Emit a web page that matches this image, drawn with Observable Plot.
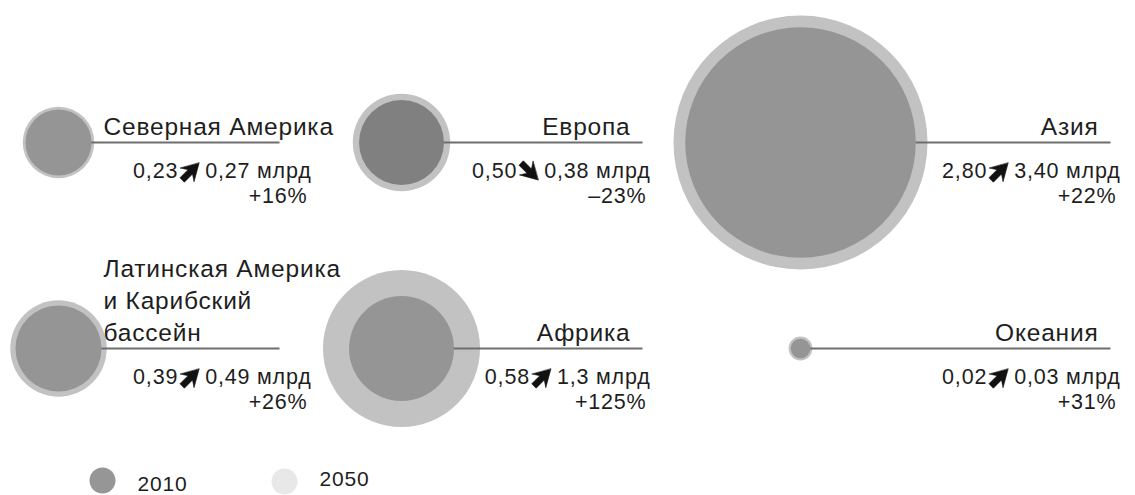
<!DOCTYPE html>
<html>
<head>
<meta charset="utf-8">
<script src="https://cdn.jsdelivr.net/npm/d3@7"></script>
<script src="https://cdn.jsdelivr.net/npm/@observablehq/plot@0.6"></script>
<style>
  html, body { margin: 0; padding: 0; background: #fff; }
  #chart svg { display: block; }
</style>
</head>
<body>
<div id="chart"></div>
<script>
// ---- data ----
const regions = ["Северная Америка", "Европа", "Азия", "Латинская Америка\nи Карибский\nбассейн", "Африка", "Океания"];
const pop2010 = [0.23, 0.50, 2.80, 0.39, 0.58, 0.02];
const pop2050 = [0.27, 0.38, 3.40, 0.49, 1.3, 0.03];
const label2010 = ["0,23", "0,50", "2,80", "0,39", "0,58", "0,02"];
const label2050 = ["0,27", "0,38", "3,40", "0,49", "1,3", "0,03"];
const changeLabels = ["+16%", "–23%", "+22%", "+26%", "+125%", "+31%"];
const years = ["2010", "2050"];

// ---- layout (grid of 2 rows x 3 columns) ----
const W = 1135, H = 495;
const gridRow = [0, 0, 0, 1, 1, 1];
const gridCol = [0, 1, 2, 0, 1, 2];
const colCenter = [58, 401, 800];
const colLineEnd = [279, 642, 1110];
const colTextEnd = [311, 650, 1120];
const rowCenter = [142, 348];

const ringFill = "#c2c2c2";
const innerFill = "#959595";
const declineFill = "#808080";
const ink = "#1e1e1e";
const fontName = "'Liberation Sans', Arial, Helvetica, sans-serif";
const LS = 0.8;             // letter spacing, px
const nameSize = 24.5, valueSize = 21.5, legendSize = 21;

// text width measurement, so the arrow sits between the two numbers
const mctx = document.createElement("canvas").getContext("2d");
function textWidth(s, size) {
  mctx.font = `${size}px 'Liberation Sans', Arial, sans-serif`;
  return mctx.measureText(s).width + LS * s.length;
}

const arrowLen = 24, arrowGapL = 1, arrowGapR = 3, arrowHalf = 11.5;

const rows = regions.map((name, i) => {
  const big = Math.max(pop2010[i], pop2050[i]);
  const small = Math.min(pop2010[i], pop2050[i]);
  const col = gridCol[i];
  const textEnd = colTextEnd[col];
  const right = `${label2050[i]} млрд`;
  const rightStart = textEnd - textWidth(right, valueSize);
  const arrowX = rightStart - arrowGapR - arrowHalf;
  const leftEnd = arrowX - arrowHalf - arrowGapL;
  return {
    name, col,
    cx: colCenter[col],
    cy: rowCenter[gridRow[i]],
    lineEnd: colLineEnd[col],
    textEnd, right, rightStart, arrowX, leftEnd,
    left: label2010[i],
    big, small,
    decline: pop2050[i] < pop2010[i],
    change: changeLabels[i]
  };
});

const legend = years.map((y, i) => ({
  year: y,
  x: [102, 284][i],
  y: [480, 481][i],
  ty: [484, 479][i],
  fill: ["#969696", "#e8e8e8"][i]
}));

// filled "navigation" arrow pointing up, tail at origin
const arrowShape = {
  draw(ctx, l) {
    const w = l * 0.4, s = l * 0.13;
    ctx.moveTo(0, -l);
    ctx.lineTo(w, -l * 0.3);
    ctx.lineTo(s, -l * 0.48);
    ctx.lineTo(s, 0);
    ctx.lineTo(-s, 0);
    ctx.lineTo(-s, -l * 0.48);
    ctx.lineTo(-w, -l * 0.3);
    ctx.closePath();
  }
};

const nameStyle = {y: "cy", dy: -8, text: "name", lineAnchor: "bottom", lineHeight: 1.3, fontSize: nameSize, fill: ink};

const chart = Plot.plot({
  width: W,
  height: H,
  margin: 0,
  x: {domain: [0, W], range: [0, W], axis: null},
  y: {domain: [0, H], range: [0, H], axis: null},
  r: {type: "sqrt", domain: [0, 3.4], range: [0, 127]},
  style: {fontFamily: fontName, background: "#fff", letterSpacing: `${LS}px`},
  marks: [
    // larger of the two circles
    Plot.dot(rows, {x: "cx", y: "cy", r: "big", fill: ringFill, stroke: null}),
    // leader line
    Plot.link(rows, {x1: "cx", x2: "lineEnd", y1: "cy", y2: "cy", stroke: "#6e6e6e", strokeWidth: 1.8}),
    // smaller of the two circles
    Plot.dot(rows, {x: "cx", y: "cy", r: "small", fill: d => d.decline ? declineFill : innerFill, stroke: null}),
    // region names: first column left-aligned, others right-aligned
    Plot.text(rows.filter(d => d.col === 0), {...nameStyle, x: d => d.cx + 45, textAnchor: "start"}),
    Plot.text(rows.filter(d => d.col !== 0), {...nameStyle, x: d => d.lineEnd - 12, textAnchor: "end"}),
    // values: 2010 number, arrow, 2050 number
    Plot.text(rows, {x: "leftEnd", y: "cy", dy: 29, text: "left", textAnchor: "end", fontSize: valueSize, fill: ink}),
    Plot.vector(rows, {
      x: "arrowX", y: "cy", dy: 29,
      length: arrowLen, rotate: d => d.decline ? 135 : 45,
      shape: arrowShape, anchor: "middle",
      fill: "#111", stroke: "#111", strokeWidth: 0.6
    }),
    Plot.text(rows, {x: "rightStart", y: "cy", dy: 29, text: "right", textAnchor: "start", fontSize: valueSize, fill: ink}),
    // change %
    Plot.text(rows, {x: d => d.textEnd - 4, y: "cy", dy: 54, text: "change", textAnchor: "end", fontSize: valueSize, fill: ink}),
    // legend
    Plot.dot(legend, {x: "x", y: "y", r: 13, fill: "fill", stroke: null}),
    Plot.text(legend, {x: d => d.x + 35, y: "ty", text: "year", textAnchor: "start", fontSize: legendSize, fill: ink})
  ]
});

document.getElementById("chart").appendChild(chart);
</script>
</body>
</html>
